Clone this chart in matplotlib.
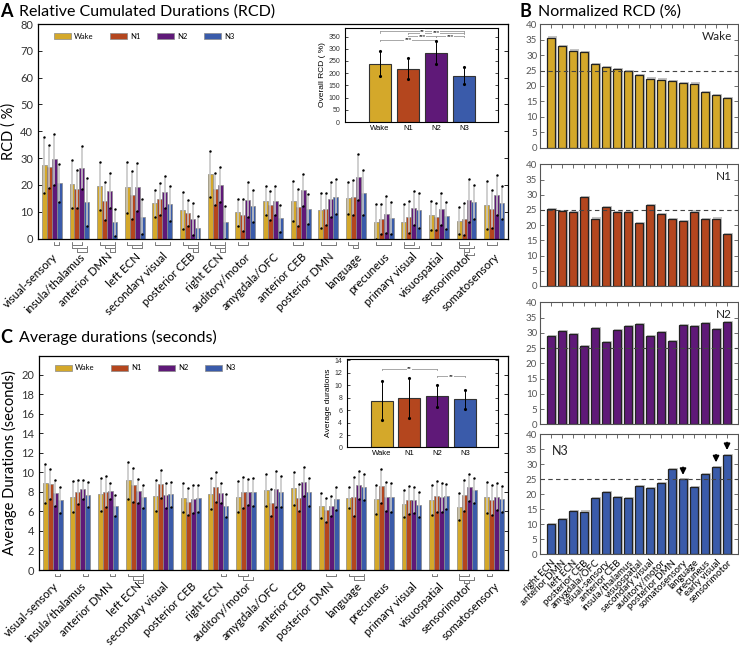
import numpy as np
import matplotlib
matplotlib.use("Agg")
import matplotlib.pyplot as plt
import matplotlib.transforms as mtransforms

plt.rcParams["font.family"] = ["Lato", "DejaVu Sans"]

# states and their colours
states = ["Wake", "N1", "N2", "N3"]
colors = ["#D4A82A", "#B4461E", "#5F1978", "#3A5BAA"]

regions = ["visual-sensory", "insula/thalamus", "anterior DMN", "left ECN",
           "secondary visual", "posterior CEB", "right ECN", "auditory/motor",
           "amygdala/OFC", "anterior CEB", "posterior DMN", "language",
           "precuneus", "primary visual", "visuospatial", "sensorimotor",
           "somatosensory"]

# panel A: relative cumulated durations (%)
rcd_wake = [27.5, 20.2, 19.7, 19.1, 13.1, 10.5, 24.1, 9.8, 14.1, 14.0, 10.5, 15.0, 6.2, 6.0, 8.6, 6.7, 12.4]
rcd_n1 = [26.8, 18.5, 14.0, 16.3, 14.6, 9.5, 18.4, 8.8, 12.4, 11.6, 10.9, 15.4, 7.2, 7.9, 8.2, 7.4, 11.1]
rcd_n2 = [29.5, 26.4, 17.8, 19.1, 17.2, 7.3, 20.0, 14.4, 14.1, 18.1, 14.6, 23.0, 9.0, 11.4, 11.1, 14.2, 16.1]
rcd_n3 = [20.8, 13.6, 6.0, 8.1, 13.0, 4.0, 6.0, 12.1, 7.5, 11.0, 15.6, 17.1, 7.8, 10.5, 8.5, 13.6, 13.4]
rcd_sd_wake = [10.5, 9.0, 9.0, 9.5, 5.0, 7.0, 8.5, 5.0, 5.5, 7.5, 6.5, 6.0, 6.5, 7.0, 5.5, 5.0, 9.0]
rcd_sd_n1 = [8.0, 7.0, 7.0, 9.0, 6.0, 5.0, 6.0, 6.0, 5.5, 7.0, 6.0, 6.5, 5.5, 6.0, 5.0, 6.0, 7.0]
rcd_sd_n2 = [9.5, 8.0, 6.5, 9.0, 6.0, 6.0, 6.5, 6.5, 5.5, 6.0, 6.5, 8.5, 7.0, 6.5, 6.0, 8.0, 7.5]
rcd_sd_n3 = [7.0, 9.0, 5.0, 6.5, 6.5, 4.5, 6.0, 6.0, 5.0, 5.5, 6.5, 8.5, 6.0, 6.5, 5.0, 6.5, 6.0]
rcd_brackets = [[(2, 3)], [(0, 2), (0, 3), (1, 3)], [(0, 3), (1, 3), (2, 3)], [(0, 3), (1, 3)],
                [(0, 3)], [(0, 3), (1, 3), (2, 3)], [(0, 3), (1, 3), (2, 3)], [(0, 2)], [],
                [(0, 2)], [(0, 3)], [(0, 2), (1, 2)], [(0, 3)], [(0, 2), (0, 3)], [(0, 2)],
                [(0, 2), (0, 3), (1, 2), (1, 3)], [(0, 2)]]

# inset A: overall RCD
overall_rcd = [239, 218, 283, 189]
overall_rcd_err = [50, 43, 47, 35]
overall_rcd_sig = [(1, 4, 371, "**"), (2, 4, 365, "***"), (2, 3, 351, "***"),
                   (3, 4, 351, "***"), (1, 3, 337, "***")]

# panel C: average durations (s)
dur_wake = [8.9, 7.5, 7.75, 9.2, 7.6, 7.4, 7.8, 7.5, 8.2, 8.35, 6.6, 7.4, 7.25, 6.8, 7.15, 6.5, 7.45]
dur_n1 = [8.8, 8.0, 8.0, 8.7, 8.8, 7.0, 8.5, 7.95, 6.9, 7.4, 6.15, 7.5, 8.6, 7.15, 7.55, 7.65, 7.15]
dur_n2 = [7.9, 8.25, 8.1, 8.1, 7.65, 7.25, 7.9, 8.0, 8.3, 9.05, 6.55, 8.7, 7.5, 7.15, 7.45, 8.45, 7.5]
dur_n3 = [7.15, 7.7, 6.6, 7.5, 7.75, 7.35, 6.6, 8.0, 8.0, 8.0, 7.3, 8.5, 7.45, 6.7, 7.55, 8.15, 7.25]
dur_sd_wake = [2.0, 1.6, 1.7, 1.9, 1.6, 1.5, 1.6, 1.6, 1.6, 1.7, 1.3, 1.1, 1.5, 1.4, 1.5, 1.4, 1.6]
dur_sd_n1 = [1.5, 1.2, 1.6, 1.7, 1.4, 1.4, 1.5, 1.6, 1.4, 1.4, 1.2, 2.0, 1.7, 1.4, 1.6, 1.6, 1.5]
dur_sd_n2 = [1.3, 1.0, 0.8, 1.2, 1.3, 1.4, 1.0, 1.3, 1.8, 1.5, 1.0, 1.4, 1.5, 1.3, 1.5, 1.4, 1.4]
dur_sd_n3 = [1.3, 1.3, 1.1, 1.2, 1.3, 1.4, 1.2, 1.4, 1.6, 1.4, 1.2, 1.3, 1.5, 1.3, 1.3, 1.3, 1.3]
dur_brackets = [[(2, 3)], [(2, 3)], [(2, 3)], [(0, 3), (1, 3), (2, 3)], [], [], [(2, 3)],
                [(0, 2), (1, 3)], [], [], [(1, 3)], [(0, 3), (1, 3)], [], [], [(0, 1)],
                [(0, 2), (0, 3), (1, 2)], [(0, 1)]]

# inset C: overall average durations
overall_dur = [7.5, 7.9, 8.3, 7.7]
overall_dur_err = [3.1, 3.2, 1.8, 1.6]
overall_dur_sig = [(1, 3, 12.6, "**"), (3, 4, 11.4, "**")]

# panel B: normalized RCD (%), each state sorted on its own
norm_wake = [35.7, 32.9, 31.5, 30.9, 27.1, 26.0, 25.4, 24.7, 23.4, 22.4, 22.1, 21.7, 21.1, 20.8, 18.1, 17.2, 16.1]
norm_n1 = [25.3, 24.8, 24.4, 29.2, 22.2, 25.9, 24.3, 24.3, 20.7, 26.5, 23.8, 22.0, 21.3, 24.5, 22.0, 22.2, 17.1]
norm_n2 = [29.0, 30.5, 29.7, 25.7, 31.7, 27.1, 31.0, 32.2, 33.0, 28.8, 30.2, 27.3, 32.5, 32.2, 33.2, 31.2, 33.6]
norm_n3 = [10.1, 11.7, 14.4, 14.2, 18.8, 20.7, 19.2, 18.7, 22.7, 22.2, 23.8, 28.5, 24.9, 22.3, 26.6, 29.1, 33.2]
n3_labels = ["right ECN", "anterior DMN", "left ECN", "posterior CEB", "amygdala/OFC",
             "visual-sensory", "anterior CEB", "insula/thalamus", "visuospatial",
             "secondary visual", "auditory/motor", "posterior DMN", "somatosensory",
             "language", "precuneus", "early visual", "sensorimotor"]
n3_arrows = [13, 16, 17]

fig = plt.figure(figsize=(7.39, 6.46), dpi=100)


def grouped_bars(ax, means, sds, brackets, ylim, yticks, ylabel, labelsize, pad):
    x = np.arange(1, len(regions) + 1)
    w = 0.18
    for k in range(4):
        m = np.asarray(means[k])
        s = np.asarray(sds[k])
        xs = x + (k - 1.5) * w
        ax.bar(xs, m, w, color=colors[k], edgecolor="#8a8a8a", linewidth=0.5,
               label=states[k], zorder=2)
        ax.vlines(xs, m - s, m + s, color="#c6c6c6", lw=1.3, zorder=3, alpha=0.9)
        ax.plot(xs, m + s, ".", color="k", ms=1.5, zorder=5)
        ax.plot(xs, m - s, ".", color="k", ms=1.5, zorder=5)

    # significance brackets under the axis
    trans = mtransforms.blended_transform_factory(ax.transData, ax.transAxes)
    for g, pairs in enumerate(brackets, start=1):
        for lev, (i, j) in enumerate(pairs):
            x0 = g + (i - 1.5) * w
            x1 = g + (j - 1.5) * w
            y = -0.03 - 0.016 * lev
            ax.plot([x0, x0, x1, x1], [y + 0.012, y, y, y + 0.012], color="#444444",
                    lw=0.5, transform=trans, clip_on=False)

    ax.set_xlim(0.5, len(regions) + 0.5)
    ax.set_ylim(*ylim)
    ax.set_yticks(yticks)
    ax.set_xticks(x)
    ax.set_xticklabels(regions, rotation=45, ha="right", rotation_mode="anchor",
                       fontsize=labelsize)
    ax.tick_params(axis="x", length=0, pad=pad)
    ax.tick_params(axis="y", direction="in", right=True, length=3, labelsize=8,
                   labelcolor="#333333", width=0.6)
    ax.set_ylabel(ylabel, fontsize=10.5, labelpad=3)
    for sp in ax.spines.values():
        sp.set_linewidth(0.9)
    ax.legend(ncol=4, frameon=False, fontsize=5.5, loc="center left",
              bbox_to_anchor=(0.02, 0.944), handlelength=2.2, handleheight=0.9,
              handletextpad=0.4, columnspacing=2.2)


def inset_bars(ax, means, errs, sig, ylim, yticks, ylabel):
    x = np.arange(1, 5)
    ax.bar(x, means, 0.8, color=colors, edgecolor="#333333", linewidth=0.8, zorder=2)
    ax.errorbar(x, means, yerr=errs, fmt="none", ecolor="k", elinewidth=0.7,
                capsize=0, zorder=3)
    m = np.asarray(means)
    e = np.asarray(errs)
    ax.plot(x, m + e, ".", color="k", ms=2.5, zorder=4)
    ax.plot(x, m - e, ".", color="k", ms=2.5, zorder=4)
    for a, b, y, txt in sig:
        ax.plot([a, b], [y, y], color="#9a9a9a", lw=0.6)
        ax.plot([a, a], [y, y - ylim[1] * 0.012], color="#9a9a9a", lw=0.6)
        ax.plot([b, b], [y, y - ylim[1] * 0.012], color="#9a9a9a", lw=0.6)
        ax.text((a + b) / 2, y, txt, ha="center", va="center", fontsize=4.5,
                family=["Liberation Sans", "DejaVu Sans"],
                bbox=dict(facecolor="white", edgecolor="none", pad=0.2))
    ax.set_xlim(-0.25, 5.2)
    ax.set_ylim(*ylim)
    ax.set_yticks(yticks)
    ax.set_xticks(x)
    ax.set_xticklabels(states)
    for lab in ax.get_xticklabels() + ax.get_yticklabels():
        lab.set_family(["Liberation Sans", "DejaVu Sans"])
    ax.tick_params(axis="x", length=0, labelsize=5.5, pad=2)
    ax.tick_params(axis="y", direction="in", right=True, length=2, labelsize=5,
                   labelcolor="#333333", width=0.5)
    ax.set_ylabel(ylabel, fontsize=6, family=["Liberation Sans", "DejaVu Sans"], labelpad=2)
    for sp in ax.spines.values():
        sp.set_linewidth(0.8)


# ---- panel A
axA = fig.add_axes([0.0514, 0.6308, 0.636, 0.332])
grouped_bars(axA, [rcd_wake, rcd_n1, rcd_n2, rcd_n3],
             [rcd_sd_wake, rcd_sd_n1, rcd_sd_n2, rcd_sd_n3],
             rcd_brackets, (0, 80), np.arange(0, 81, 10), "RCD ( %)", 8.3, 9)
fig.text(0.0, 0.982, "A", fontsize=13, fontweight="bold", va="center")
fig.text(0.026, 0.982, "Relative Cumulated Durations (RCD)", fontsize=11.5, va="center")

axAi = fig.add_axes([0.4668, 0.8111, 0.207, 0.1455])
inset_bars(axAi, overall_rcd, overall_rcd_err, overall_rcd_sig, (0, 385),
           np.arange(0, 351, 50), "Overall RCD ( %)")

# ---- panel C
axC = fig.add_axes([0.0528, 0.1176, 0.6346, 0.3313])
grouped_bars(axC, [dur_wake, dur_n1, dur_n2, dur_n3],
             [dur_sd_wake, dur_sd_n1, dur_sd_n2, dur_sd_n3],
             dur_brackets, (0, 21.9), np.arange(0, 21, 2), "Average Durations (seconds)",
             8.3, 7.5)
fig.text(0.0, 0.478, "C", fontsize=13, fontweight="bold", va="center")
fig.text(0.026, 0.478, "Average durations (seconds)", fontsize=11.5, va="center")

axCi = fig.add_axes([0.4696, 0.3073, 0.2043, 0.137])
inset_bars(axCi, overall_dur, overall_dur_err, overall_dur_sig, (0, 14.2),
           np.arange(0, 15, 2), "Average durations")

# ---- panel B
fig.text(0.703, 0.982, "B", fontsize=13, fontweight="bold", va="center")
fig.text(0.728, 0.982, "Normalized RCD (%)", fontsize=11.5, va="center")

b_rects = [[0.7307, 0.7714, 0.268, 0.191],
           [0.7307, 0.5573, 0.268, 0.1882],
           [0.7307, 0.3432, 0.268, 0.1889],
           [0.7307, 0.1424, 0.268, 0.1853]]
b_values = [norm_wake, norm_n1, norm_n2, norm_n3]
xb = np.arange(1, 18)
for k, (rect, vals) in enumerate(zip(b_rects, b_values)):
    ax = fig.add_axes(rect)
    ax.bar(xb + 0.12, np.asarray(vals) + 0.35, 0.8, color="#c4c4c4", zorder=1)
    ax.bar(xb, vals, 0.8, color=colors[k], edgecolor="#222222", linewidth=0.9, zorder=2)
    ax.axhline(25, color="#444444", lw=0.8, ls=(0, (4, 3)), zorder=3)
    ax.set_xlim(0, 18)
    ax.set_ylim(0, 40)
    ax.set_yticks(np.arange(0, 41, 5))
    ax.set_xticks(xb)
    ax.tick_params(axis="y", direction="in", right=True, length=3, labelsize=7,
                   labelcolor="#555555", color="#555555", width=0.6, pad=2)
    ax.tick_params(axis="x", direction="in", top=True, length=3, color="#555555", width=0.6)
    for sp in ax.spines.values():
        sp.set_color("#555555")
        sp.set_linewidth(0.8)
    if k < 3:
        ax.set_xticklabels([])
        ax.text(0.97, 0.90, states[k], transform=ax.transAxes, ha="right", va="center",
                fontsize=8.5, color="#222222")
    else:
        ax.set_xticklabels(n3_labels, rotation=45, ha="right", rotation_mode="anchor",
                           fontsize=7)
        ax.tick_params(axis="x", pad=3)
        ax.text(0.06, 0.86, states[k], transform=ax.transAxes, ha="left", va="center",
                fontsize=9, color="#222222")
        for i in n3_arrows:
            top = vals[i - 1]
            ax.annotate("", xy=(i, top + 0.6), xytext=(i, top + 5.0),
                        arrowprops=dict(arrowstyle="-|>", color="k", lw=1.2,
                                        mutation_scale=9), zorder=5)

fig.savefig("out.png", dpi=100)
